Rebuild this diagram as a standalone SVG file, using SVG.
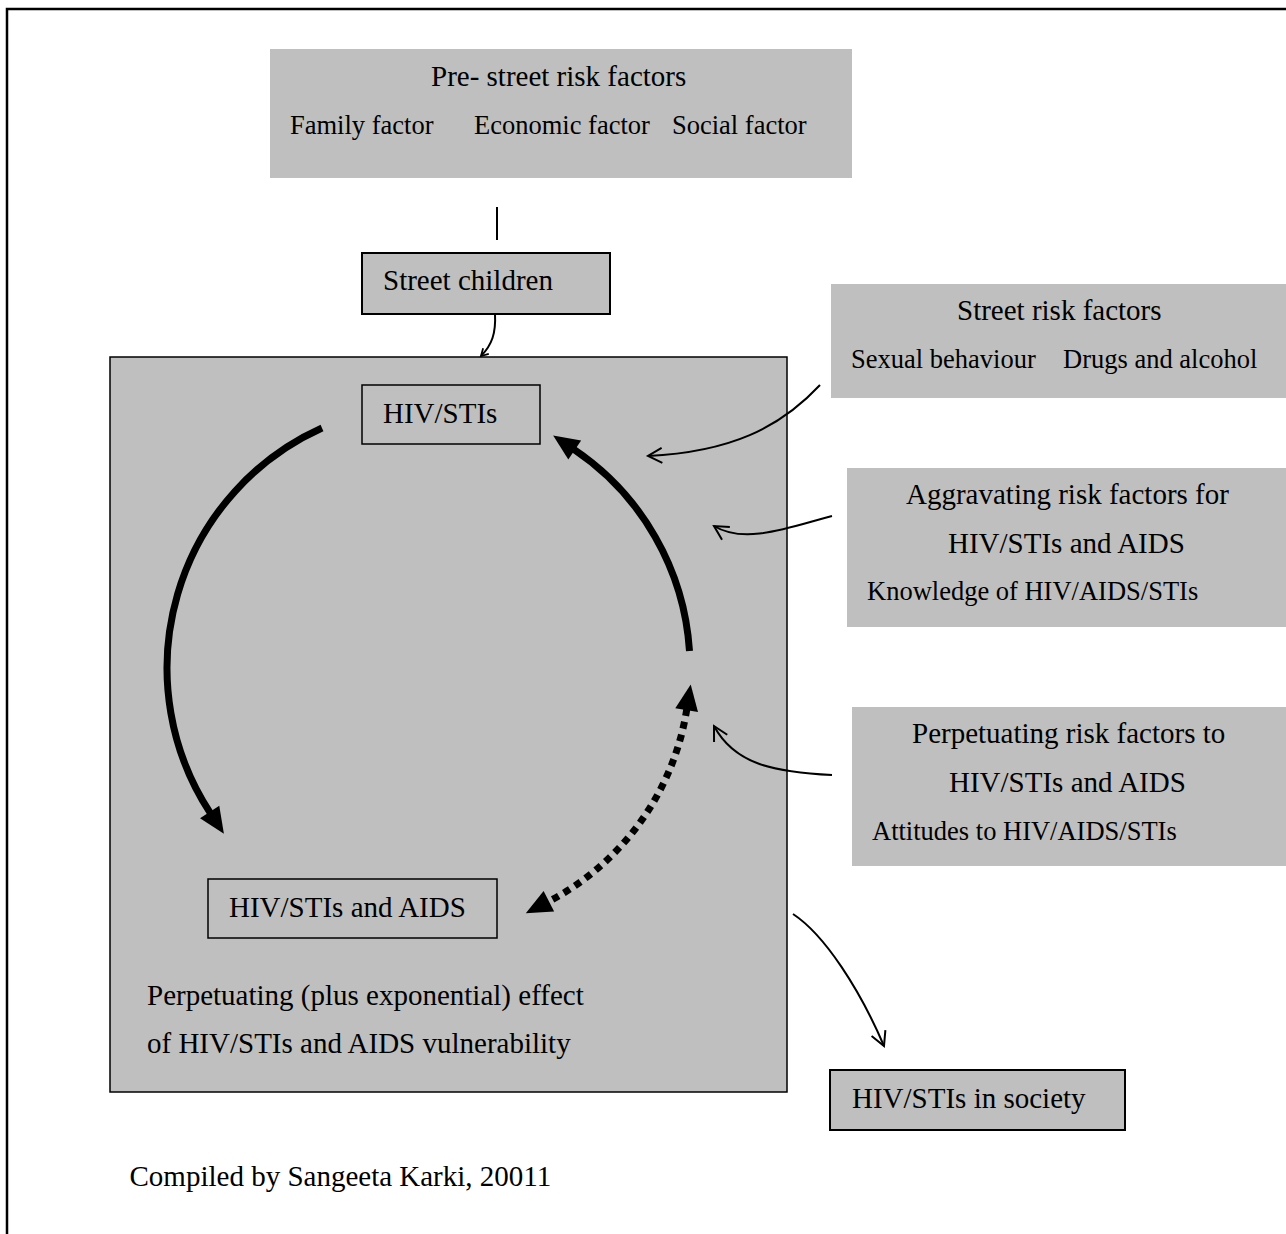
<svg xmlns="http://www.w3.org/2000/svg" width="1286" height="1234" viewBox="0 0 1286 1234">
<style>
.t{font-family:"Liberation Serif","Times New Roman",serif;font-size:29px;fill:#000}
.s{font-family:"Liberation Serif","Times New Roman",serif;font-size:26.5px;fill:#000}
.g{fill:#bfbfbf}
.gb{fill:#bfbfbf;stroke:#000;stroke-width:2}
.thick{fill:none;stroke:#000;stroke-width:7}
.thin{fill:none;stroke:#000;stroke-width:2}
</style>
<defs>
<marker id="big" markerUnits="userSpaceOnUse" orient="auto-start-reverse" refX="0" refY="0" markerWidth="30" markerHeight="30" overflow="visible">
<path d="M-1,-11.5 L25,0 L-1,11.5 z" fill="#000"/>
</marker>
<marker id="open" markerUnits="userSpaceOnUse" orient="auto" refX="0" refY="0" markerWidth="20" markerHeight="20" overflow="visible">
<path d="M-14,-7.5 L0,0 L-14,7.5" fill="none" stroke="#000" stroke-width="2"/>
</marker>
<marker id="small" markerUnits="userSpaceOnUse" orient="auto" refX="0" refY="0" markerWidth="12" markerHeight="12" overflow="visible">
<path d="M-7,-4 L0,0 L-7,4" fill="none" stroke="#000" stroke-width="1.8"/>
</marker>
</defs>
<path d="M7,1234 V9 H1286" fill="none" stroke="#000" stroke-width="2.5"/>

<g id="pre-street">
<rect class="g" x="270" y="49" width="582" height="129"/>
<text class="t" x="431" y="86">Pre- street risk factors</text>
<text class="s" x="290" y="134">Family factor</text>
<text class="s" x="474" y="134">Economic factor</text>
<text class="s" x="672" y="134">Social factor</text>
</g>

<g id="street-children">
<rect class="gb" x="362" y="253" width="248" height="61"/>
<text class="t" x="383" y="290">Street children</text>
</g>

<g id="cycle-box">
<rect x="110" y="357" width="677" height="735" fill="#bfbfbf" stroke="#000" stroke-width="1.5"/>
<text class="t" x="147" y="1005">Perpetuating (plus exponential) effect</text>
<text class="t" x="147" y="1053">of HIV/STIs and AIDS vulnerability</text>
</g>

<g id="hiv-stis">
<rect x="362" y="385" width="178" height="59" fill="none" stroke="#000" stroke-width="1.5"/>
<text class="t" x="383" y="423">HIV/STIs</text>
</g>

<g id="hiv-aids">
<rect x="208" y="879" width="289" height="59" fill="none" stroke="#000" stroke-width="1.5"/>
<text class="t" x="229" y="917">HIV/STIs and AIDS</text>
</g>

<g id="street-risk">
<rect class="g" x="831" y="284" width="455" height="114"/>
<text class="t" x="957" y="320">Street risk factors</text>
<text class="s" x="851" y="368">Sexual behaviour</text>
<text class="s" x="1063" y="368">Drugs and alcohol</text>
</g>

<g id="aggravating">
<rect class="g" x="847" y="468" width="439" height="159"/>
<text class="t" x="906" y="504">Aggravating risk factors for</text>
<text class="t" x="948" y="553">HIV/STIs and AIDS</text>
<text class="s" x="867" y="600">Knowledge of HIV/AIDS/STIs</text>
</g>

<g id="perpetuating">
<rect class="g" x="852" y="707" width="434" height="159"/>
<text class="t" x="912" y="743">Perpetuating risk factors to</text>
<text class="t" x="949" y="792">HIV/STIs and AIDS</text>
<text class="s" x="872" y="840">Attitudes to HIV/AIDS/STIs</text>
</g>

<g id="society">
<rect class="gb" x="830" y="1070" width="295" height="60"/>
<text class="t" x="852" y="1108">HIV/STIs in society</text>
</g>

<text class="t" x="129.5" y="1186">Compiled by Sangeeta Karki, 20011</text>

<g id="connectors">
<line x1="497" y1="207" x2="497" y2="240" stroke="#000" stroke-width="2"/>
<path class="thin" d="M495,314 C496,333 492,345 481,356" marker-end="url(#small)"/>
<path class="thick" d="M322,428 A261.5,263 0 0,0 210.2,812.9" marker-end="url(#big)"/>
<path class="thick" d="M689.5,651 A261.5,263 0 0,0 573.9,449.4" marker-end="url(#big)"/>
<path class="thick" d="M686.8,709.1 A261.5,263 0 0,1 548,901.8" stroke-dasharray="7 6" marker-start="url(#big)" marker-end="url(#big)"/>
<path class="thin" d="M820,385 C780,428 730,452 648,456" marker-end="url(#open)"/>
<path class="thin" d="M832,516 C790,527 745,545 714,526" marker-end="url(#open)"/>
<path class="thin" d="M832,775 C775,772 735,765 714,726" marker-end="url(#open)"/>
<path class="thin" d="M793,914 C825,935 860,990 884,1046" marker-end="url(#open)"/>
</g>
</svg>
